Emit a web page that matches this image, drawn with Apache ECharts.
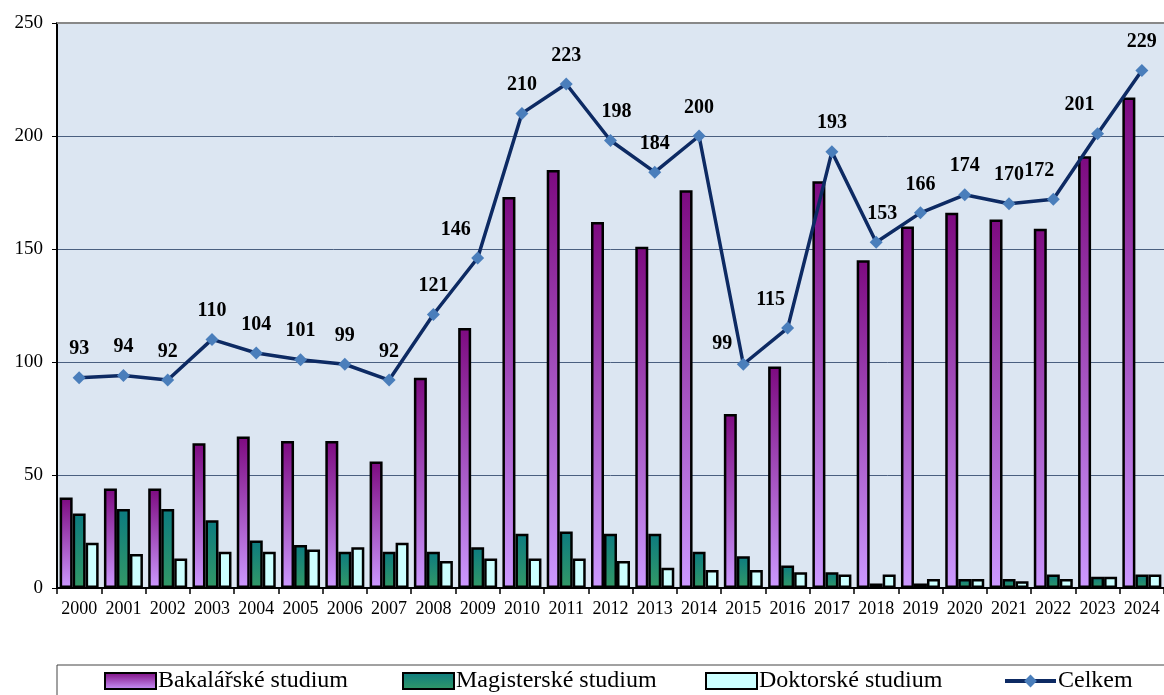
<!DOCTYPE html>
<html>
<head>
<meta charset="utf-8">
<script src="https://cdn.jsdelivr.net/npm/echarts@6/dist/echarts.min.js"></script>
<style>
  html, body { margin: 0; padding: 0; background: #fff; }
  #main { width: 1164px; height: 695px; }
</style>
</head>
<body>
<div id="main"></div>
<script>
var years = ['2000','2001','2002','2003','2004','2005','2006','2007','2008','2009','2010','2011','2012',
             '2013','2014','2015','2016','2017','2018','2019','2020','2021','2022','2023','2024'];
var bakalarske = [40,44,44,64,67,65,65,56,93,115,173,185,162,151,176,77,98,180,145,160,166,163,159,191,217];
var magisterske = [33,35,35,30,21,19,16,16,16,18,24,25,24,24,16,14,10,7,2,2,4,4,6,5,6];
var doktorske = [20,15,13,16,16,17,18,20,12,13,13,13,12,9,8,8,7,6,6,4,4,3,4,5,6];
var celkem = [93,94,92,110,104,101,99,92,121,146,210,223,198,184,200,99,115,193,153,166,174,170,172,201,229];

// small nudges of a few total labels, [dx, dy]
var labelNudge = { '2009': [-22, 0], '2015': [-21, 8], '2016': [-17, 0], '2022': [-14, 0], '2023': [-18, 0], '2018': [6, 0], '2012': [6, 0] };

var serif = 'Liberation Serif';

var myChart = echarts.init(document.getElementById('main'));

var celkemData = celkem.map(function (v, i) {
  var n = labelNudge[years[i]];
  var item = { value: v };
  if (n) item.label = { offset: n };
  return item;
});

function legendFor(name, left, icon) {
  var l = {
    data: [{ name: name, icon: icon }],
    left: left,
    top: 667,
    padding: 0,
    itemWidth: 51,
    itemHeight: 16,
    itemGap: 0,
    textStyle: { fontFamily: serif, fontSize: 24, lineHeight: 28, color: '#000', padding: [0, 0, 0, -3] }
  };
  if (!icon) {
    l.data = [name];
    l.lineStyle = { width: 4 };
  }
  return l;
}

var option = {
  animation: false,
  grid: {
    left: 57, right: 0, top: 23, bottom: 107,
    show: true, backgroundColor: '#dce6f2', borderWidth: 0
  },
  legend: [
    legendFor('Bakalářské studium', 104, 'rect'),
    legendFor('Magisterské studium', 402, 'rect'),
    legendFor('Doktorské studium', 705, 'rect'),
    legendFor('Celkem', 1003)
  ],
  xAxis: {
    type: 'category',
    data: years,
    axisLine: { lineStyle: { color: '#000', width: 2 } },
    axisTick: { show: true, length: 6, lineStyle: { color: '#000', width: 1.5 } },
    axisLabel: { fontFamily: serif, fontSize: 18, color: '#000', margin: 12, interval: 0 }
  },
  yAxis: {
    type: 'value',
    min: 0, max: 250, interval: 50,
    axisLine: { show: true, lineStyle: { color: '#000', width: 2 } },
    axisTick: { show: true, length: 5, lineStyle: { color: '#000' } },
    axisLabel: { fontFamily: serif, fontSize: 19, color: '#000', margin: 14 },
    splitLine: { lineStyle: { color: '#4a5f80', width: 1 } }
  },
  graphic: [
    { type: 'line', shape: { x1: 57, y1: 23, x2: 1164, y2: 23 }, style: { stroke: '#888', lineWidth: 2 }, z: 10 },
    { type: 'rect', shape: { x: 57, y: 665, width: 1120, height: 40 }, style: { fill: 'none', stroke: '#444', lineWidth: 1 } }
  ],
  series: [
    {
      name: 'Bakalářské studium',
      type: 'bar',
      data: bakalarske,
      barWidth: 13,
      barGap: '0%',
      itemStyle: {
        color: new echarts.graphic.LinearGradient(0, 0, 0, 1, [
          { offset: 0, color: '#7d0a80' },
          { offset: 1, color: '#cc99ff' }
        ]),
        borderColor: '#000', borderWidth: 2.5
      }
    },
    {
      name: 'Magisterské studium',
      type: 'bar',
      data: magisterske,
      barWidth: 13,
      itemStyle: {
        color: new echarts.graphic.LinearGradient(0, 0, 0, 1, [
          { offset: 0, color: '#0c7b80' },
          { offset: 1, color: '#339966' }
        ]),
        borderColor: '#000', borderWidth: 2.5
      }
    },
    {
      name: 'Doktorské studium',
      type: 'bar',
      data: doktorske,
      barWidth: 13,
      itemStyle: { color: '#ccffff', borderColor: '#000', borderWidth: 2.5 }
    },
    {
      name: 'Celkem',
      type: 'line',
      data: celkemData,
      symbol: 'diamond',
      symbolSize: 13,
      itemStyle: { color: '#4a7ebb' },
      lineStyle: { color: '#0d2a63', width: 3.5 },
      label: {
        show: true, position: 'top', distance: 12,
        fontFamily: serif, fontSize: 20, fontWeight: 'bold', color: '#000'
      },
      z: 5
    }
  ]
};

myChart.setOption(option);
</script>
</body>
</html>
